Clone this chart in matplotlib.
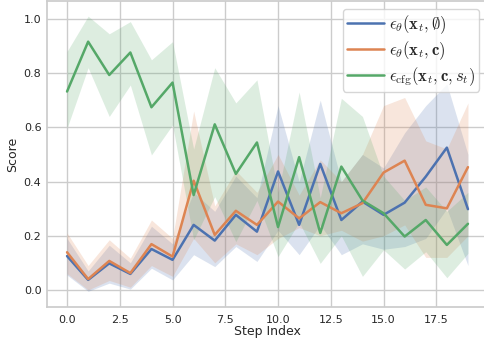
import matplotlib
matplotlib.use("Agg")
import matplotlib.pyplot as plt
import numpy as np
import seaborn as sns

sns.set_theme(style="whitegrid")
plt.rcParams['mathtext.fontset'] = 'cm'

steps = np.arange(20)

blue_mean = [0.125, 0.037, 0.098, 0.059, 0.151, 0.111, 0.24, 0.182, 0.277, 0.215,
             0.437, 0.24, 0.465, 0.258, 0.326, 0.277, 0.322, 0.418, 0.525, 0.298]
blue_lo = [0.055, -0.005, 0.025, 0.003, 0.08, 0.037, 0.13, 0.086, 0.16, 0.105,
           0.22, 0.13, 0.24, 0.13, 0.17, 0.15, 0.16, 0.19, 0.30, 0.09]
blue_hi = [0.19, 0.07, 0.165, 0.10, 0.235, 0.17, 0.36, 0.29, 0.42, 0.34,
           0.68, 0.40, 0.70, 0.40, 0.50, 0.45, 0.58, 0.68, 0.76, 0.50]

orange_mean = [0.139, 0.04, 0.107, 0.062, 0.169, 0.123, 0.403, 0.203, 0.292, 0.24,
               0.326, 0.264, 0.324, 0.283, 0.32, 0.433, 0.477, 0.314, 0.301, 0.453]
orange_lo = [0.06, 0.0, 0.035, 0.01, 0.09, 0.05, 0.19, 0.10, 0.17, 0.13,
             0.19, 0.23, 0.20, 0.22, 0.18, 0.20, 0.24, 0.12, 0.12, 0.20]
orange_hi = [0.21, 0.09, 0.185, 0.117, 0.258, 0.19, 0.66, 0.31, 0.44, 0.36,
             0.50, 0.35, 0.48, 0.40, 0.50, 0.68, 0.71, 0.55, 0.52, 0.69]

green_mean = [0.732, 0.916, 0.793, 0.876, 0.674, 0.765, 0.35, 0.611, 0.428, 0.544,
              0.232, 0.49, 0.21, 0.455, 0.33, 0.283, 0.197, 0.258, 0.166, 0.244]
green_lo = [0.597, 0.82, 0.64, 0.756, 0.498, 0.609, 0.185, 0.344, 0.178, 0.33,
            0.123, 0.25, 0.098, 0.20, 0.05, 0.148, 0.077, 0.141, 0.045, 0.135]
green_hi = [0.88, 1.01, 0.945, 0.99, 0.849, 0.916, 0.52, 0.82, 0.69, 0.775,
            0.36, 0.73, 0.34, 0.707, 0.64, 0.42, 0.33, 0.38, 0.29, 0.36]

labels = [r'$\epsilon_\theta(\mathbf{x}_t, \emptyset)$',
          r'$\epsilon_\theta(\mathbf{x}_t, \mathbf{c})$',
          r'$\epsilon_{\mathrm{cfg}}(\mathbf{x}_t, \mathbf{c}, s_t)$']

pal = sns.color_palette("deep")

fig = plt.figure(figsize=(4.84, 3.43), dpi=100)
ax = fig.add_axes([47/484, 1 - 307/343, (488 - 47)/484, (307 - 1)/343])

series = [(blue_mean, blue_lo, blue_hi), (orange_mean, orange_lo, orange_hi),
          (green_mean, green_lo, green_hi)]
for (m, lo, hi), c, lab in zip(series, pal[:3], labels):
    ax.fill_between(steps, lo, hi, color=c, alpha=0.2, linewidth=0)
    ax.plot(steps, m, color=c, lw=1.8, label=lab)

ax.set_xlim(-0.95, 19.95)
ax.set_ylim(-0.063, 1.066)
ax.set_xticks([0, 2.5, 5, 7.5, 10, 12.5, 15, 17.5])
ax.set_yticks([0, 0.2, 0.4, 0.6, 0.8, 1.0])
ax.tick_params(axis='both', labelsize=8, length=0)
ax.tick_params(axis='y', pad=4)
ax.tick_params(axis='x', pad=6)
ax.set_xlabel("Step Index", fontsize=9, labelpad=0)
ax.set_ylabel("Score", fontsize=9, labelpad=3)
ax.legend(loc='upper right', bbox_to_anchor=(0.98, 0.975), borderaxespad=0,
          fontsize=12, handlelength=2.2, borderpad=0.25, labelspacing=0.2,
          handletextpad=0.3)

fig.savefig("out.png", dpi=100)
